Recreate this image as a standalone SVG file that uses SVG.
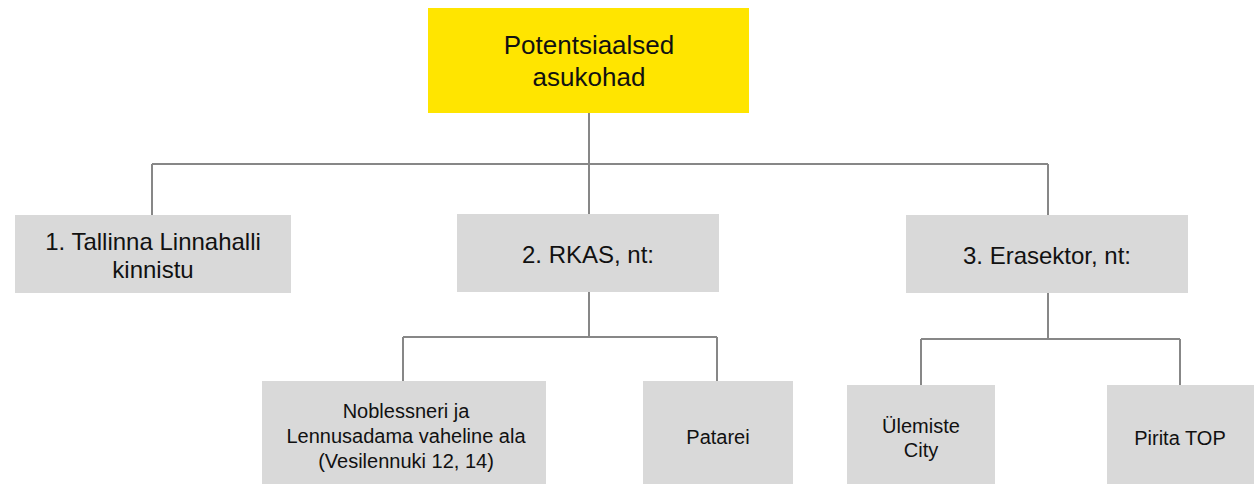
<svg xmlns="http://www.w3.org/2000/svg" width="1254" height="484" viewBox="0 0 1254 484">
<style>
.box{fill:#d9d9d9}
.top{fill:#ffe500}
.t{font-family:"Liberation Sans",Arial,sans-serif;fill:#111;text-anchor:middle}
.l{font-size:24px}
.s{font-size:20px}
.c{fill:none;stroke:#878787;stroke-width:2}
</style>
<rect width="1254" height="484" fill="#fff"/>
<g id="connectors">
<path class="c" d="M589 113V164M152 164H1048M152 164V215M589 164V214M1048 164V215"/>
<path class="c" d="M589 292V337M403 337H717M403 337V381M717 337V381"/>
<path class="c" d="M1048 293V339M921 339H1180M921 339V385M1180 339V385"/>
</g>
<g id="root">
<rect class="top" x="428" y="8" width="321" height="105"/>
<text class="t" x="589" y="54" font-size="26">Potentsiaalsed</text>
<text class="t" x="589" y="86" font-size="26">asukohad</text>
</g>
<g id="n1">
<rect class="box" x="15" y="215" width="276" height="78"/>
<text class="t l" x="153" y="250">1. Tallinna Linnahalli</text>
<text class="t l" x="153" y="278">kinnistu</text>
</g>
<g id="n2">
<rect class="box" x="457" y="214" width="262" height="78"/>
<text class="t l" x="588" y="263">2. RKAS, nt:</text>
</g>
<g id="n3">
<rect class="box" x="906" y="215" width="282" height="78"/>
<text class="t l" x="1047" y="264">3. Erasektor, nt:</text>
</g>
<g id="n21">
<rect class="box" x="262" y="381" width="284" height="103"/>
<text class="t s" x="406" y="418">Noblessneri ja</text>
<text class="t s" x="406" y="443">Lennusadama vaheline ala</text>
<text class="t s" x="406" y="468">(Vesilennuki 12, 14)</text>
</g>
<g id="n22">
<rect class="box" x="643" y="381" width="150" height="103"/>
<text class="t s" x="718" y="444">Patarei</text>
</g>
<g id="n31">
<rect class="box" x="847" y="385" width="148" height="99"/>
<text class="t s" x="921" y="433">Ülemiste</text>
<text class="t s" x="921" y="457">City</text>
</g>
<g id="n32">
<rect class="box" x="1107" y="385" width="147" height="99"/>
<text class="t s" x="1180" y="445">Pirita TOP</text>
</g>
</svg>
